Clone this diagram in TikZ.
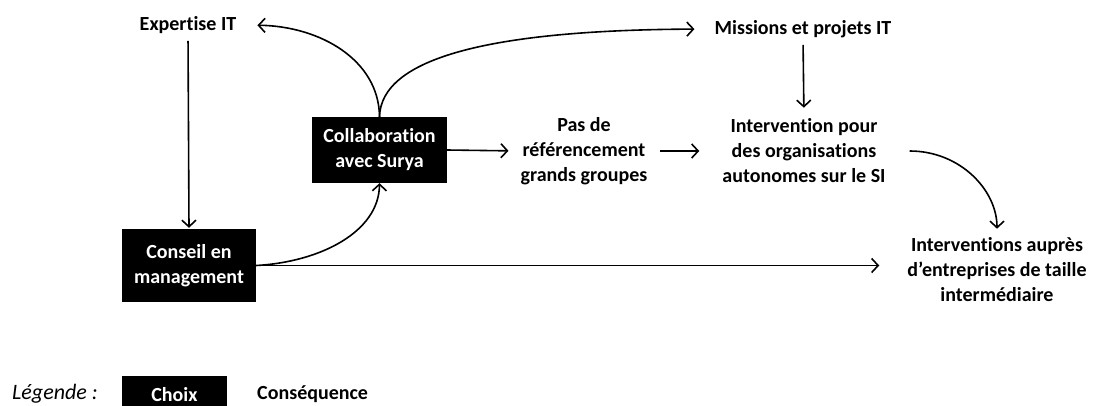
\documentclass[tikz,border=0pt]{standalone}
\usepackage{fontspec}
\setmainfont{Carlito}[Ligatures={NoCommon}]
\usetikzlibrary{arrows.meta}
\tikzset{
  res/.style={align=center, font=\fontsize{20}{25}\selectfont\bfseries, inner sep=0pt},
  choice/.style={fill=black, text=white, align=center, font=\fontsize{20}{25}\selectfont\bfseries, inner sep=0pt},
  arr/.style={-{Straight Barb[length=6.5pt,width=14pt]}, line width=1.6pt},
}
\begin{document}
\begin{tikzpicture}[x=1pt,y=-1pt]
\clip (0,0) rectangle (1093,405);
\node[res] (exp) at (188,25) {Expertise IT};
\node[choice, minimum width=134pt, minimum height=73pt] (cons) at (189,265.5) {Conseil en\\management};
\node[choice, minimum width=135pt, minimum height=66pt] (collab) at (379.5,150) {Collaboration\\avec Surya};
\node[res] (miss) at (803,29) {Missions et projets IT};
\node[res] (pas) at (584,151) {Pas de\\référencement\\grands groupes};
\node[res] (inter) at (804,151) {Intervention pour\\des organisations\\autonomes sur le SI};
\node[res] (ent) at (997,270) {Interventions auprès\\d’entreprises de taille\\intermédiaire};
% legend
\node[font=\fontsize{22}{25}\selectfont\itshape, anchor=west, inner sep=0pt] (leg) at (12,394) {Légende :};
\node[choice, minimum width=105pt, minimum height=37pt] (choix) at (174.5,394.5) {Choix};
\node[res, anchor=west] (csq) at (257,394) {Conséquence};
% connectors
\draw[arr, shorten <=7pt, shorten >=1pt] (exp.south) -- (cons.north);
\draw[arr, shorten >=21pt] (collab.north) .. controls (379,60) and (320,26) .. (exp.east);
\draw[arr, shorten >=20pt] (collab.north) .. controls (381,58) and (490,30) .. (miss.west);
\draw[arr, shorten <=7pt, shorten >=11pt] (miss.south) -- (inter.north);
\draw[arr, shorten >=12pt] (collab.east) -- (pas.west);
\draw[arr, shorten <=12pt, shorten >=23pt] (pas.east) -- (pas.east -| inter.west);
\draw[arr, shorten <=24pt, shorten >=9pt] (inter.east) .. controls (960,151) and (997,190) .. (ent.north);
\draw[arr] (cons.east) .. controls (320,262) and (379,232) .. (collab.south);
\draw[arr, shorten >=28pt] (cons.east) -- (cons.east -| ent.west);
\end{tikzpicture}
\end{document}
